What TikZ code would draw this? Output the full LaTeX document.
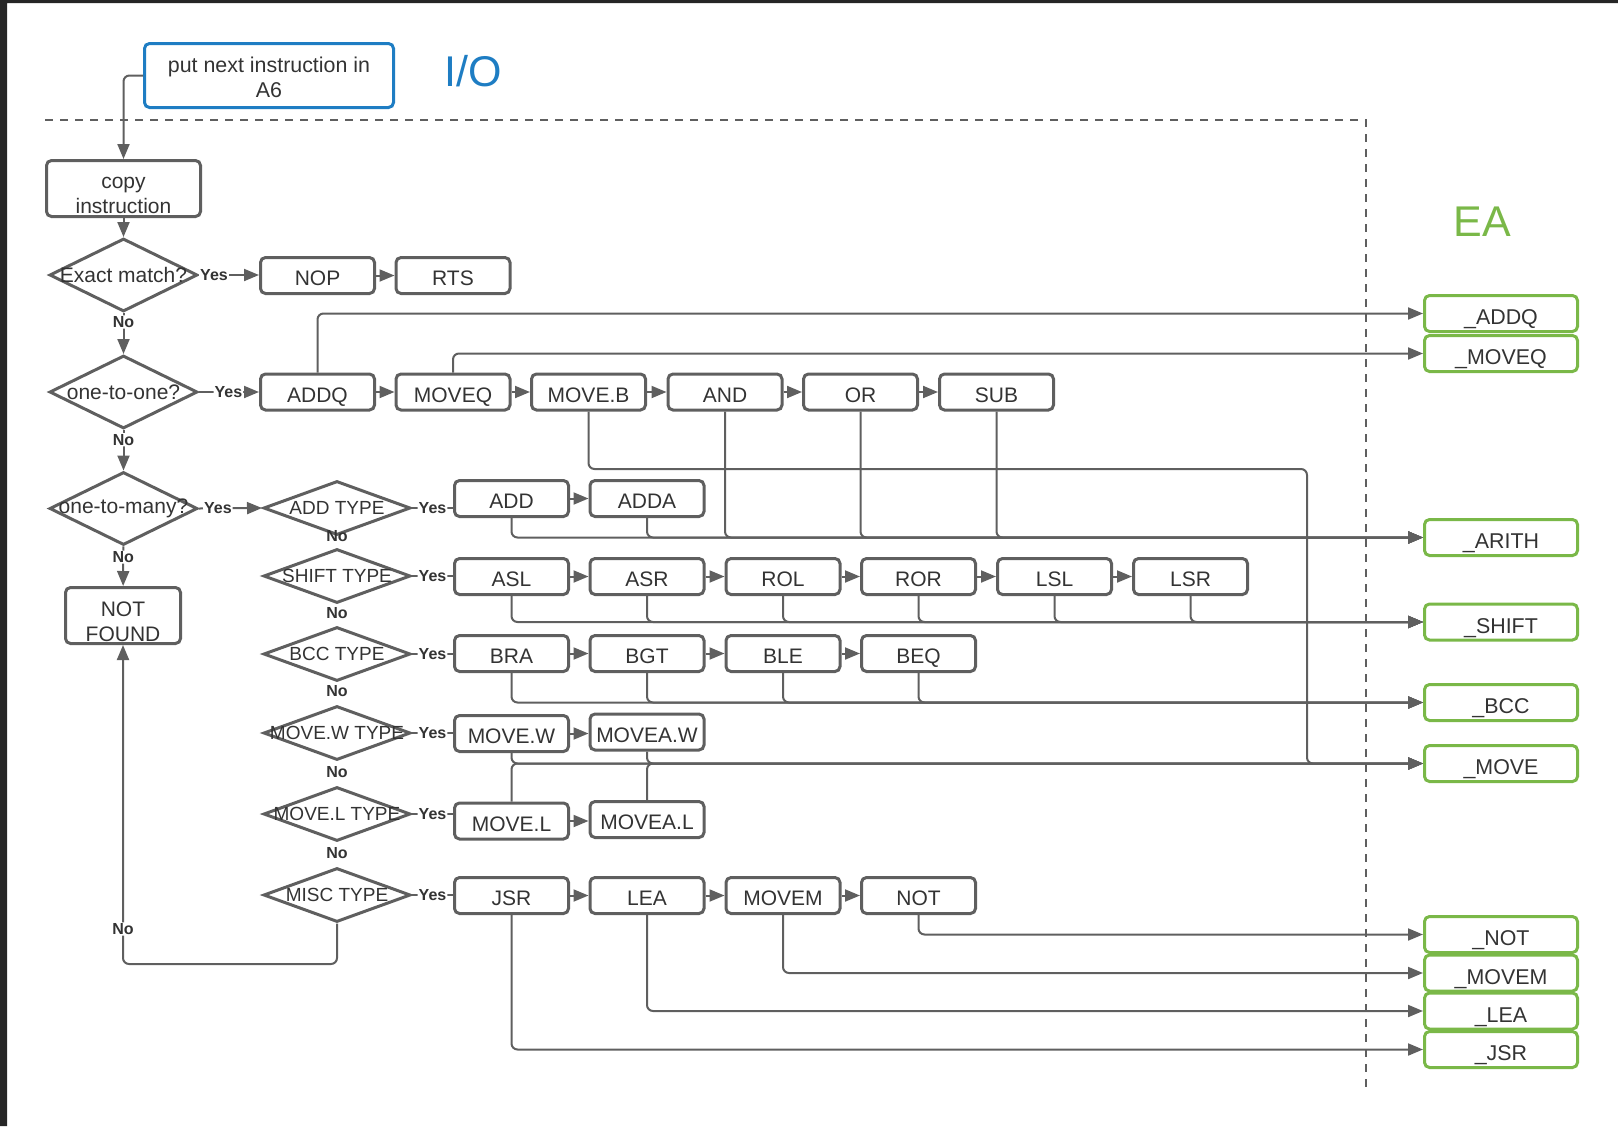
\documentclass[tikz,border=0pt]{standalone}
\usepackage{fontspec}
\setmainfont{Liberation Sans}
\usetikzlibrary{shapes.geometric,arrows.meta}
\definecolor{linegray}{RGB}{95,95,95}
\definecolor{txtgray}{RGB}{51,51,51}
\definecolor{ioblue}{RGB}{30,125,195}
\definecolor{eagreen}{RGB}{122,184,72}
\tikzset{
	frame/.style={draw=linegray,line width=1.5pt,rounded corners=2.5pt,minimum width=57pt,minimum height=18pt,inner sep=0pt,text=txtgray,font=\fontsize{10.5}{12.5}\selectfont},
	op/.style={frame,text height=10.3pt,text depth=0pt},
	eabox/.style={op,draw=eagreen,minimum width=76.5pt,text height=11.3pt,font=\fontsize{10.7}{12.5}\selectfont},
	test/.style={diamond,draw=linegray,line width=1.5pt,minimum width=74pt,minimum height=36.5pt,inner sep=0pt},
	subtest/.style={test,minimum width=73.5pt,minimum height=27pt},
	dtxt/.style={text=txtgray,inner sep=0pt,font=\fontsize{10.5}{12.5}\selectfont},
	stxt/.style={text=txtgray,inner sep=0pt,font=\fontsize{9.5}{11}\selectfont},
	yn/.style={text=txtgray,inner sep=0.5pt,font=\bfseries\fontsize{8}{9}\selectfont},
	ynf/.style={yn,fill=white},
	link/.style={draw=linegray,line width=1pt,rounded corners=3pt},
	go/.style={link,-{Triangle[length=7.5pt,width=6pt]}},
}
\begin{document}
\begin{tikzpicture}[x=0.5pt,y=-0.5pt]
	\useasboundingbox (0,0) rectangle (1618,1126);
	\fill[black!85] (0,0) rectangle (1618,3) (0,0) rectangle (7,1126);
	\draw[linegray,line width=1pt,dash pattern=on 4pt off 3.5pt] (45,120) -- (1366,120) -- (1366,1087);
	\node[frame,draw=ioblue,minimum width=124.5pt,minimum height=32pt,align=center,text height=22.2pt,text depth=0pt,font=\fontsize{10.7}{12.8}\selectfont] (putnext) at (269,75.5) {put next instruction in\\A6};
	\node[text=ioblue,font=\fontsize{21.5}{24}\selectfont] (io) at (473.5,71.5) {I/O};
	\node[text=eagreen,font=\fontsize{21.5}{24}\selectfont] (ea) at (1482.5,221.5) {EA};
	\node[frame,minimum width=77pt,minimum height=28pt,align=center,text height=24.8pt,text depth=0pt] (copy) at (123.5,188.5) {copy\\instruction};
	\node[test,label={[dtxt]center:Exact match?}] (exact) at (123.5,275) {};
	\node[test,label={[dtxt]center:one-to-one?}] (onetoone) at (123.5,392) {};
	\node[test,label={[dtxt]center:one-to-many?}] (onetomany) at (123.5,508.5) {};
	\node[frame,minimum width=57.5pt,minimum height=28pt,align=center,text height=25.5pt,text depth=0pt] (notfound) at (123,615.5) {NOT\\FOUND};
	\node[op] (nop) at (317.5,275.5) {NOP};
	\node[op] (rts) at (453,275.5) {RTS};
	\node[op] (addq) at (317.5,392) {ADDQ};
	\node[op] (moveq) at (453,392) {MOVEQ};
	\node[op] (moveb) at (588.5,392) {MOVE.B};
	\node[op] (and) at (725,392) {AND};
	\node[op] (or) at (860.5,392) {OR};
	\node[op] (sub) at (996.5,392) {SUB};
	\node[subtest,label={[stxt]center:ADD TYPE}] (addtype) at (337,508) {};
	\node[subtest,label={[stxt]center:SHIFT TYPE}] (shifttype) at (337,576) {};
	\node[subtest,label={[stxt]center:BCC TYPE}] (bcctype) at (337,654) {};
	\node[subtest,label={[stxt]center:MOVE.W TYPE}] (movewtype) at (337,733) {};
	\node[subtest,label={[stxt]center:MOVE.L TYPE}] (moveltype) at (337,814) {};
	\node[subtest,label={[stxt]center:MISC TYPE}] (misctype) at (337,895) {};
	\node[yn] (no1) at (337,536) {No};
	\node[yn] (no2) at (337,613) {No};
	\node[yn] (no3) at (337,691) {No};
	\node[yn] (no4) at (337,772) {No};
	\node[yn] (no5) at (337,853) {No};
	\node[op] (add) at (511.5,498.5) {ADD};
	\node[op] (adda) at (647,498.5) {ADDA};
	\node[op] (asl) at (511.5,576.5) {ASL};
	\node[op] (asr) at (647,576.5) {ASR};
	\node[op] (rol) at (783,576.5) {ROL};
	\node[op] (ror) at (918.5,576.5) {ROR};
	\node[op] (lsl) at (1054.5,576.5) {LSL};
	\node[op] (lsr) at (1190.5,576.5) {LSR};
	\node[op] (bra) at (511.5,653.5) {BRA};
	\node[op] (bgt) at (647,653.5) {BGT};
	\node[op] (ble) at (783,653.5) {BLE};
	\node[op] (beq) at (918.5,653.5) {BEQ};
	\node[op] (movew) at (511.5,733.5) {MOVE.W};
	\node[op] (moveaw) at (647,732) {MOVEA.W};
	\node[op] (movel) at (511.5,821) {MOVE.L};
	\node[op] (moveal) at (647,819.5) {MOVEA.L};
	\node[op] (jsr) at (511.5,895.5) {JSR};
	\node[op] (lea) at (647,895.5) {LEA};
	\node[op] (movem) at (783,895.5) {MOVEM};
	\node[op] (notop) at (918.5,895.5) {NOT};
	\node[eabox] (eaaddq) at (1501,313.5) {\_ADDQ};
	\node[eabox] (eamoveq) at (1501,353.5) {\_MOVEQ};
	\node[eabox] (eaarith) at (1501,537.5) {\_ARITH};
	\node[eabox] (eashift) at (1501,622) {\_SHIFT};
	\node[eabox] (eabcc) at (1501,702.5) {\_BCC};
	\node[eabox] (eamove) at (1501,763.5) {\_MOVE};
	\node[eabox] (eanot) at (1501,934.5) {\_NOT};
	\node[eabox] (eamovem) at (1501,973) {\_MOVEM};
	\node[eabox] (ealea) at (1501,1011) {\_LEA};
	\node[eabox] (eajsr) at (1501,1049.5) {\_JSR};
	\coordinate (mbturn) at (1307,469);
	\coordinate (back) at (123,964);
	\draw[go] (putnext.west) -| (copy.north);
	\draw[go] (copy) -- (exact);
	\draw[go] (exact) -- node[ynf,pos=0.22] {No} (onetoone);
	\draw[go] (onetoone) -- node[ynf,pos=0.24] {No} (onetomany);
	\draw[go] (onetomany) -- node[ynf,pos=0.27] {No} (notfound);
	\draw[go] (misctype.south) |- (back) -- node[ynf,pos=0.11] {No} (notfound.south);
	\draw[go] (exact.east) -- node[ynf,pos=0.25] {Yes} (exact.east -| nop.west);
	\draw[go] (onetoone.east) -- node[ynf,pos=0.49] {Yes} (addq.west);
	\draw[go] (onetomany.east) -- node[ynf,pos=0.3] {Yes} (addtype.west);
	\draw[link] (addtype.east) -- node[ynf] {Yes} (addtype.east -| add.west);
	\draw[link] (shifttype.east) -- node[ynf] {Yes} (shifttype.east -| asl.west);
	\draw[link] (bcctype.east) -- node[ynf] {Yes} (bcctype.east -| bra.west);
	\draw[link] (movewtype.east) -- node[ynf] {Yes} (movewtype.east -| movew.west);
	\draw[link] (moveltype.east) -- node[ynf] {Yes} (moveltype.east -| movel.west);
	\draw[link] (misctype.east) -- node[ynf] {Yes} (misctype.east -| jsr.west);
	\draw[go] (nop.east) -- (rts.west);
	\draw[go] (addq.east) -- (moveq.west);
	\draw[go] (moveq.east) -- (moveb.west);
	\draw[go] (moveb.east) -- (and.west);
	\draw[go] (and.east) -- (or.west);
	\draw[go] (or.east) -- (sub.west);
	\draw[go] (add.east) -- (adda.west);
	\draw[go] (asl.east) -- (asr.west);
	\draw[go] (asr.east) -- (rol.west);
	\draw[go] (rol.east) -- (ror.west);
	\draw[go] (ror.east) -- (lsl.west);
	\draw[go] (lsl.east) -- (lsr.west);
	\draw[go] (bra.east) -- (bgt.west);
	\draw[go] (bgt.east) -- (ble.west);
	\draw[go] (ble.east) -- (beq.west);
	\draw[go] (movew.east) -- (movew.east -| moveaw.west);
	\draw[go] (movel.east) -- (movel.east -| moveal.west);
	\draw[go] (jsr.east) -- (lea.west);
	\draw[go] (lea.east) -- (movem.west);
	\draw[go] (movem.east) -- (notop.west);
	\draw[go] (addq.north) |- (eaaddq.west);
	\draw[go] (moveq.north) |- (eamoveq.west);
	\draw[go] (add.south) |- (eaarith.west);
	\draw[go] (adda.south) |- (eaarith.west);
	\draw[go] (and.south) |- (eaarith.west);
	\draw[go] (or.south) |- (eaarith.west);
	\draw[go] (sub.south) |- (eaarith.west);
	\draw[go] (asl.south) |- (eashift.west);
	\draw[go] (asr.south) |- (eashift.west);
	\draw[go] (rol.south) |- (eashift.west);
	\draw[go] (ror.south) |- (eashift.west);
	\draw[go] (lsl.south) |- (eashift.west);
	\draw[go] (lsr.south) |- (eashift.west);
	\draw[go] (bra.south) |- (eabcc.west);
	\draw[go] (bgt.south) |- (eabcc.west);
	\draw[go] (ble.south) |- (eabcc.west);
	\draw[go] (beq.south) |- (eabcc.west);
	\draw[go] (movew.south) |- (eamove.west);
	\draw[go] (moveaw.south) |- (eamove.west);
	\draw[go] (movel.north) |- (eamove.west);
	\draw[go] (moveal.north) |- (eamove.west);
	\draw[go] (moveb.south) |- (mbturn) |- (eamove.west);
	\draw[go] (notop.south) |- (eanot.west);
	\draw[go] (movem.south) |- (eamovem.west);
	\draw[go] (lea.south) |- (ealea.west);
	\draw[go] (jsr.south) |- (eajsr.west);
\end{tikzpicture}
\end{document}
